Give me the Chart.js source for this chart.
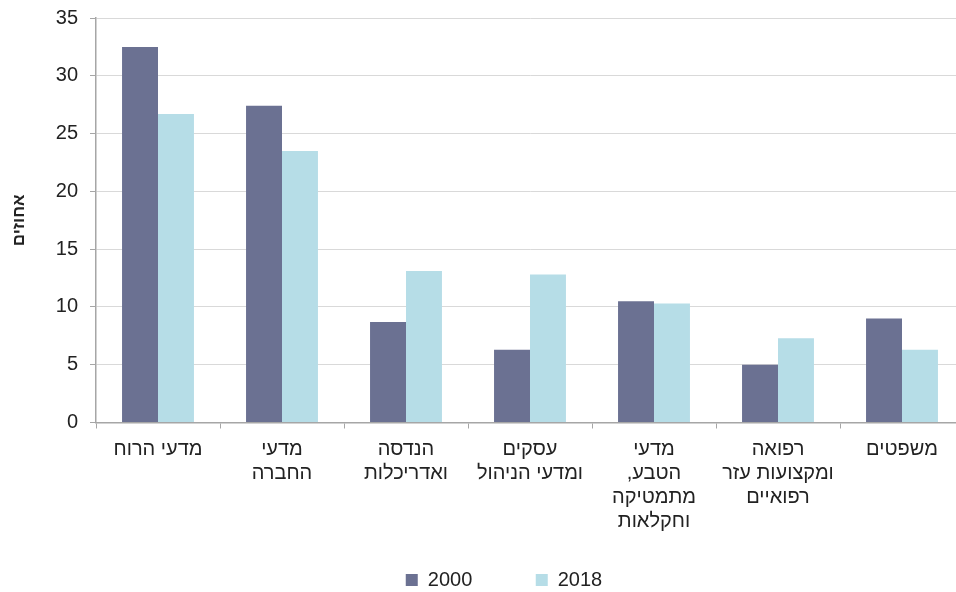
<!DOCTYPE html>
<html lang="he">
<head>
<meta charset="utf-8">
<script src="https://cdn.jsdelivr.net/npm/chart.js@4"></script>
<style>
    html, body { margin: 0; padding: 0; background: #fff; overflow: hidden; }
    #wrap { width: 1008px; height: 592px; position: relative; }
</style>
</head>
<body>
<div id="wrap"><canvas id="bar_chart" dir="rtl"></canvas></div>
<script>
const categories = [
    'מדעי הרוח',
    ['מדעי', 'החברה'],
    ['הנדסה', 'ואדריכלות'],
    ['עסקים', 'ומדעי הניהול'],
    ['מדעי', 'הטבע,', 'מתמטיקה', 'וחקלאות'],
    ['רפואה', 'ומקצועות עזר', 'רפואיים'],
    'משפטים'
];
const values2000 = [32.5, 27.4, 8.7, 6.3, 10.5, 5.0, 9.0];
const values2018 = [26.7, 23.5, 13.1, 12.8, 10.3, 7.3, 6.3];
const yTicks = [0, 5, 10, 15, 20, 25, 30, 35];

const axisGrey = '#a6a6a6';
const fontFamily = '"Liberation Sans", Arial, sans-serif';

// legend padding is big (for spacing between items), so move it back into place
const legendNudge = {
    id: 'legendNudge',
    afterLayout(chart) {
        const lg = chart.legend;
        lg.left += 22; lg.right += 22;
        lg.top -= 36; lg.bottom -= 36;
    }
};

new Chart(document.getElementById('bar_chart'), {
    type: 'bar',
    data: {
        labels: categories,
        datasets: [
            {
                label: '2000',
                data: values2000,
                backgroundColor: '#6b7192',
                categoryPercentage: 0.58,
                barPercentage: 1.0
            },
            {
                label: '2018',
                data: values2018,
                backgroundColor: '#b6dde7',
                categoryPercentage: 0.58,
                barPercentage: 1.0
            }
        ]
    },
    plugins: [legendNudge],
    options: {
        responsive: true,
        maintainAspectRatio: false,
        animation: false,
        layout: { padding: { left: 0, right: 44, top: 18, bottom: -44 } },
        plugins: {
            tooltip: { enabled: false },
            legend: {
                position: 'bottom',
                labels: {
                    boxWidth: 12,
                    boxHeight: 12,
                    padding: 63.5,
                    color: '#222',
                    font: { family: fontFamily, size: 20 }
                }
            }
        },
        scales: {
            x: {
                grid: {
                    drawOnChartArea: false,
                    drawTicks: true,
                    tickLength: 6,
                    tickColor: axisGrey,
                    offset: true
                },
                border: { color: axisGrey, width: 1.5 },
                ticks: {
                    color: '#222',
                    padding: 9,
                    maxRotation: 0,
                    autoSkip: false,
                    font: { family: fontFamily, size: 20, lineHeight: 1.2 }
                },
                afterFit: (scale) => { scale.height = 120; }
            },
            y: {
                min: 0,
                max: 35,
                afterBuildTicks: (scale) => { scale.ticks = yTicks.map(v => ({ value: v })); },
                grid: {
                    color: '#d9d9d9',
                    tickLength: 6,
                    tickColor: axisGrey
                },
                border: { color: axisGrey, width: 1.5 },
                ticks: {
                    color: '#222',
                    padding: 12,
                    font: { family: fontFamily, size: 20 }
                },
                title: {
                    display: true,
                    text: 'אחוזים',
                    color: '#222',
                    padding: { top: 9, bottom: 0 },
                    font: { family: fontFamily, size: 17, weight: 'bold' }
                },
                afterFit: (scale) => {
                    scale.width = 96;
                    scale.paddingTop = 0;
                    scale.paddingBottom = 0;
                }
            }
        }
    }
});
</script>
</body>
</html>
